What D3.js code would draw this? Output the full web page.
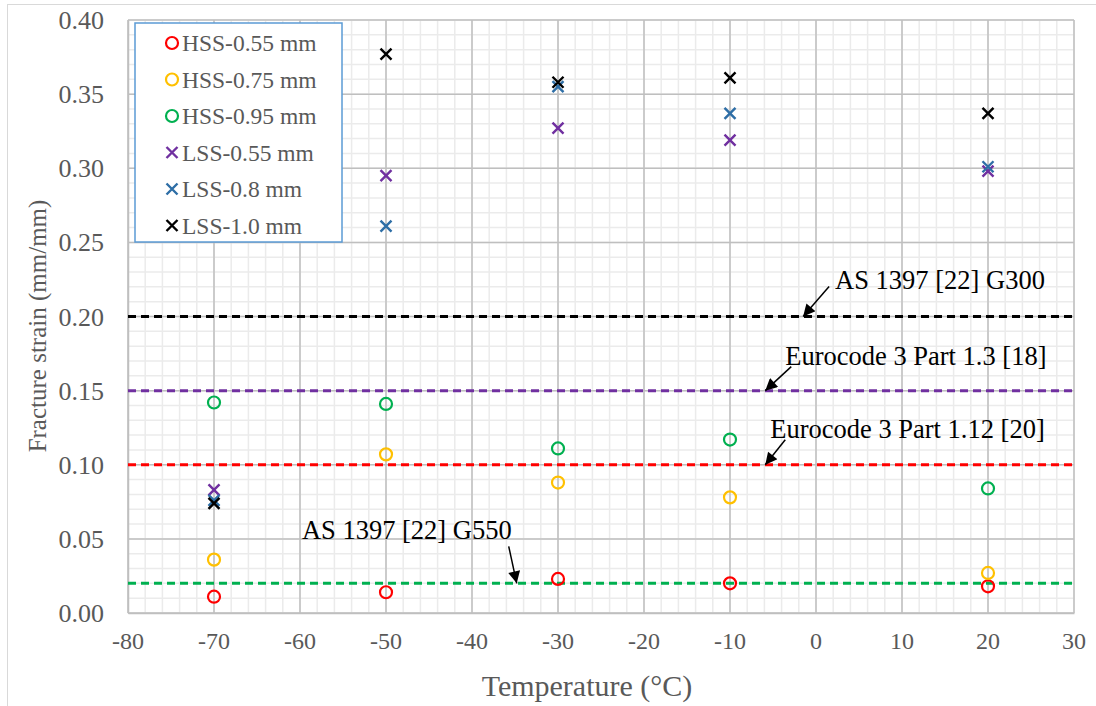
<!DOCTYPE html>
<html>
<head>
<meta charset="utf-8">
<script src="https://cdn.jsdelivr.net/npm/d3@7"></script>
<style>
  body { margin: 0; background: #fff; }
  svg { display: block; font-family: "Liberation Serif", "Times New Roman", serif; }
</style>
</head>
<body>
<svg id="chart-svg" width="1096" height="706"></svg>
<script>
// test temperatures (°C)
const temps = [-70, -50, -30, -10, 20];

// fracture strain values (mm/mm)
const hss055 = [0.011, 0.014, 0.023, 0.020, 0.018];
const hss075 = [0.036, 0.107, 0.088, 0.078, 0.027];
const hss095 = [0.142, 0.141, 0.111, 0.117, 0.084];
const lss055 = [0.083, 0.295, 0.327, 0.319, 0.298];
const lss08 = [0.076, 0.261, 0.355, 0.337, 0.301];
const lss10 = [0.074, 0.377, 0.358, 0.361, 0.337];

const seriesNames = ["HSS-0.55 mm", "HSS-0.75 mm", "HSS-0.95 mm", "LSS-0.55 mm", "LSS-0.8 mm", "LSS-1.0 mm"];

// code limits
const limitValues = [0.20, 0.15, 0.10, 0.02];
const limitLabels = ["AS 1397 [22] G300", "Eurocode 3 Part 1.3 [18]", "Eurocode 3 Part 1.12 [20]", "AS 1397 [22] G550"];
const limitArrowTemps = [-1.5, -5.9, -5.9, -34.8];

const xTicks = [-80, -70, -60, -50, -40, -30, -20, -10, 0, 10, 20, 30];
const yTicks = [0, 0.05, 0.10, 0.15, 0.20, 0.25, 0.30, 0.35, 0.40];

function createScatter() {
    const size = { width: 1096, height: 706, left: 128, right: 1074, top: 20, bottom: 613 };
    const svg = d3.select('#chart-svg');

    const series = [
        { name: seriesNames[0], values: hss055, shape: "circle", color: "#FF0000" },
        { name: seriesNames[1], values: hss075, shape: "circle", color: "#FFC000" },
        { name: seriesNames[2], values: hss095, shape: "circle", color: "#00B050" },
        { name: seriesNames[3], values: lss055, shape: "cross", color: "#7030A0" },
        { name: seriesNames[4], values: lss08, shape: "cross", color: "#2E6EA6" },
        { name: seriesNames[5], values: lss10, shape: "cross", color: "#000000" }
    ];
    const limitColors = ["#000000", "#7030A0", "#FF0000", "#00B050"];

    const xScale = d3.scaleLinear().domain([-80, 30]).range([size.left, size.right]);
    const yScale = d3.scaleLinear().domain([0, 0.40]).range([size.bottom, size.top]);

    // outer chart border
    svg.append("rect")
        .attr("x", 7.5).attr("y", 4.5)
        .attr("width", 1100).attr("height", 704)
        .attr("fill", "none").attr("stroke", "#D9D9D9");

    // minor gridlines
    const grid = svg.append("g");
    grid.selectAll(".vminor")
        .data(d3.range(-80, 31, 2))
        .join("line")
        .attr("x1", d => xScale(d)).attr("x2", d => xScale(d))
        .attr("y1", size.top).attr("y2", size.bottom)
        .attr("stroke", "#EBEBEB").attr("stroke-width", 1.5);
    grid.selectAll(".hminor")
        .data(d3.range(0, 41, 1).map(d => d / 100))
        .join("line")
        .attr("x1", size.left).attr("x2", size.right)
        .attr("y1", d => yScale(d)).attr("y2", d => yScale(d))
        .attr("stroke", "#EBEBEB").attr("stroke-width", 1.5);

    // major gridlines
    grid.selectAll(".vmajor")
        .data(xTicks)
        .join("line")
        .attr("x1", d => xScale(d)).attr("x2", d => xScale(d))
        .attr("y1", size.top).attr("y2", size.bottom)
        .attr("stroke", "#BFBFBF").attr("stroke-width", 1.5);
    grid.selectAll(".hmajor")
        .data(yTicks)
        .join("line")
        .attr("x1", size.left).attr("x2", size.right)
        .attr("y1", d => yScale(d)).attr("y2", d => yScale(d))
        .attr("stroke", "#BFBFBF").attr("stroke-width", 1.5);

    // axes (lines from d3 axis, labels set below)
    const xAxis = svg.append("g")
        .attr("transform", `translate(0, ${size.bottom})`)
        .call(d3.axisBottom(xScale).tickValues(xTicks).tickFormat("").tickSize(0));
    const yAxis = svg.append("g")
        .attr("transform", `translate(${size.left}, 0)`)
        .call(d3.axisLeft(yScale).tickValues(yTicks).tickFormat("").tickSize(0));
    [xAxis, yAxis].forEach(ax => {
        ax.select(".domain").attr("stroke", "#BFBFBF").attr("stroke-width", 1.5);
    });

    svg.append("g").selectAll("text")
        .data(xTicks)
        .join("text")
        .attr("x", d => xScale(d))
        .attr("y", size.bottom + 36)
        .attr("text-anchor", "middle")
        .attr("font-size", 24)
        .attr("fill", "#595959")
        .text(d => String(d));

    svg.append("g").selectAll("text")
        .data(yTicks)
        .join("text")
        .attr("x", size.left - 24)
        .attr("y", d => yScale(d) + 9)
        .attr("text-anchor", "end")
        .attr("font-size", 26)
        .attr("fill", "#595959")
        .text(d => d3.format(".2f")(d));

    // limit lines
    svg.selectAll(".limit")
        .data(limitValues)
        .join("line")
        .attr("x1", size.left).attr("x2", size.right)
        .attr("y1", d => yScale(d)).attr("y2", d => yScale(d))
        .attr("stroke", (d, i) => limitColors[i])
        .attr("stroke-width", 3)
        .attr("stroke-dasharray", "8,5");

    // markers
    series.forEach(s => {
        const g = svg.append("g");
        const pts = temps.map((t, i) => ({ t: t, v: s.values[i] }));
        if (s.shape === "circle") {
            g.selectAll("circle")
                .data(pts)
                .join("circle")
                .attr("cx", d => xScale(d.t)).attr("cy", d => yScale(d.v))
                .attr("r", 6)
                .attr("fill", "none").attr("stroke", s.color).attr("stroke-width", 2.2);
        } else {
            g.selectAll("path")
                .data(pts)
                .join("path")
                .attr("d", d => {
                    const x = xScale(d.t), y = yScale(d.v), r = 5.5;
                    return `M${x - r},${y - r}L${x + r},${y + r}M${x - r},${y + r}L${x + r},${y - r}`;
                })
                .attr("fill", "none").attr("stroke", s.color).attr("stroke-width", 2.4);
        }
    });

    // arrow head
    svg.append("defs").append("marker")
        .attr("id", "arrow")
        .attr("viewBox", "0 0 10 10")
        .attr("refX", 10).attr("refY", 5)
        .attr("markerWidth", 14).attr("markerHeight", 12)
        .attr("markerUnits", "userSpaceOnUse")
        .attr("orient", "auto")
        .append("path")
        .attr("d", "M0,0L10,5L0,10Z")
        .attr("fill", "#000");

    // annotations: offsets of arrow tail and text from the arrow tip
    const annoLayout = [
        { sx: 26, sy: -30, tx: 32, ty: -28, anchor: "start" },
        { sx: 26, sy: -24, tx: 20, ty: -26, anchor: "start" },
        { sx: 20, sy: -25, tx: 5, ty: -27, anchor: "start" },
        { sx: -8, sy: -37, tx: -5, ty: -44, anchor: "end" }
    ];
    limitValues.forEach((v, i) => {
        const tipX = xScale(limitArrowTemps[i]);
        const tipY = yScale(v);
        const l = annoLayout[i];
        svg.append("line")
            .attr("x1", tipX + l.sx).attr("y1", tipY + l.sy)
            .attr("x2", tipX).attr("y2", tipY)
            .attr("stroke", "#000").attr("stroke-width", 1.5)
            .attr("marker-end", "url(#arrow)");
        svg.append("text")
            .attr("x", tipX + l.tx).attr("y", tipY + l.ty)
            .attr("text-anchor", l.anchor)
            .attr("font-size", 26.5)
            .attr("fill", "#000")
            .text(limitLabels[i]);
    });

    // legend
    const legend = svg.append("g").attr("transform", "translate(135, 23)");
    legend.append("rect")
        .attr("width", 207).attr("height", 219)
        .attr("fill", "#fff").attr("stroke", "#5B9BD5").attr("stroke-width", 1.5);
    series.forEach((s, i) => {
        const y = 20 + i * 36.5;
        if (s.shape === "circle") {
            legend.append("circle")
                .attr("cx", 37).attr("cy", y).attr("r", 6)
                .attr("fill", "none").attr("stroke", s.color).attr("stroke-width", 2.2);
        } else {
            const r = 5.5;
            legend.append("path")
                .attr("d", `M${37 - r},${y - r}L${37 + r},${y + r}M${37 - r},${y + r}L${37 + r},${y - r}`)
                .attr("fill", "none").attr("stroke", s.color).attr("stroke-width", 2.4);
        }
        legend.append("text")
            .attr("x", 47).attr("y", y + 8)
            .attr("font-size", 23.5)
            .attr("fill", "#595959")
            .text(s.name);
    });

    // axis titles
    svg.append("text")
        .attr("x", 587)
        .attr("y", 696)
        .attr("text-anchor", "middle")
        .attr("font-size", 30)
        .attr("fill", "#595959")
        .text("Temperature (°C)");

    svg.append("text")
        .attr("transform", "rotate(-90)")
        .attr("x", -326)
        .attr("y", 46)
        .attr("text-anchor", "middle")
        .attr("font-size", 25)
        .attr("fill", "#595959")
        .text("Fracture strain (mm/mm)");
}

createScatter();
</script>
</body>
</html>
